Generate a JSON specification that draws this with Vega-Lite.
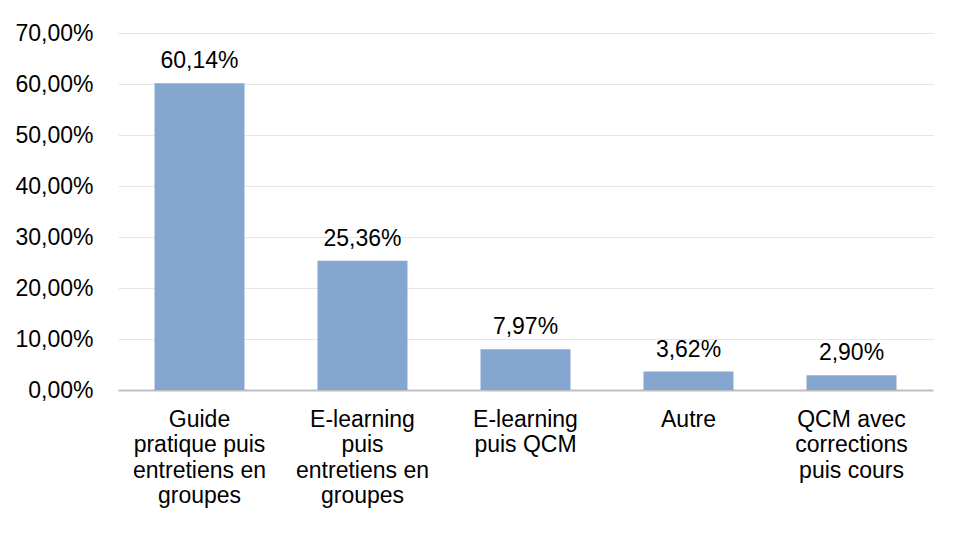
{
  "$schema": "https://vega.github.io/schema/vega-lite/v6.json",
  "width": 815,
  "height": 357,
  "autosize": {"type": "none"},
  "padding": {"left": 118, "top": 33, "right": 43, "bottom": 143},
  "background": "white",
  "config": {
    "locale": {"number": {"decimal": ",", "thousands": " ", "grouping": [3], "currency": ["", " €"]}},
    "view": {"stroke": null},
    "font": "Liberation Sans"
  },
  "data": {
    "values": [
      {"categorie": "Guide\npratique puis\nentretiens en\ngroupes", "part": 0.6014},
      {"categorie": "E-learning\npuis\nentretiens en\ngroupes", "part": 0.2536},
      {"categorie": "E-learning\npuis QCM", "part": 0.0797},
      {"categorie": "Autre", "part": 0.0362},
      {"categorie": "QCM avec\ncorrections\npuis cours", "part": 0.029}
    ]
  },
  "encoding": {
    "x": {
      "field": "categorie",
      "type": "nominal",
      "sort": null,
      "scale": {"paddingInner": 0.448, "paddingOuter": 0.224},
      "axis": {
        "title": null,
        "labelAngle": 0,
        "labelExpr": "split(datum.value, '\\n')",
        "labelFontSize": 23,
        "labelColor": "#000000",
        "labelLineHeight": 25.5,
        "labelPadding": 18,
        "labelBaseline": "top",
        "ticks": false,
        "domainColor": "#bfbfbf",
        "domainWidth": 2,
        "labelFont": "Liberation Sans"
      }
    },
    "y": {
      "field": "part",
      "type": "quantitative",
      "scale": {"domain": [0, 0.7], "nice": false},
      "axis": {
        "title": null,
        "values": [0, 0.1, 0.2, 0.3, 0.4, 0.5, 0.6, 0.7],
        "format": ".2%",
        "labelFontSize": 23,
        "labelColor": "#000000",
        "labelPadding": 25,
        "ticks": false,
        "domain": false,
        "gridColor": "#e6e6e6",
        "gridWidth": 1,
        "labelFont": "Liberation Sans"
      }
    }
  },
  "layer": [
    {"mark": {"type": "bar", "color": "#85a6cf"}},
    {
      "mark": {"type": "text", "fontSize": 23, "color": "#000000", "baseline": "alphabetic", "dy": -15, "font": "Liberation Sans"},
      "encoding": {"text": {"field": "part", "type": "quantitative", "format": ".2%"}}
    }
  ]
}
